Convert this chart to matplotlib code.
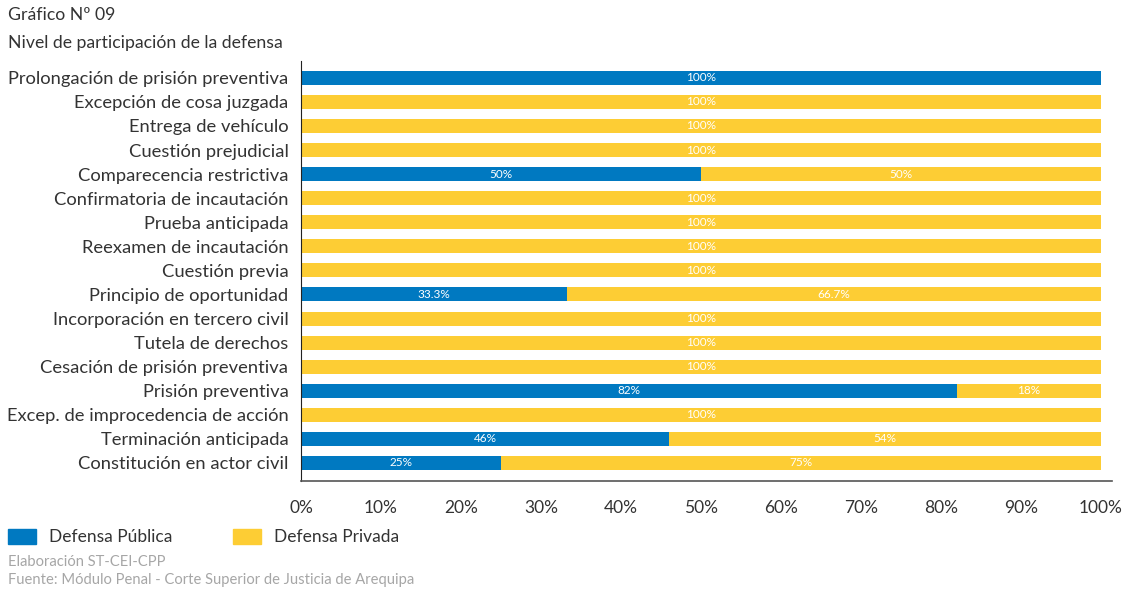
import matplotlib.pyplot as plt
from matplotlib.patches import Patch

plt.rcParams["font.family"] = ["Lato", "DejaVu Sans"]

OUTPUT_PATH = "out.png"

categories = [
    "Prolongación de prisión preventiva",
    "Excepción de cosa juzgada",
    "Entrega de vehículo",
    "Cuestión prejudicial",
    "Comparecencia restrictiva",
    "Confirmatoria de incautación",
    "Prueba anticipada",
    "Reexamen de incautación",
    "Cuestión previa",
    "Principio de oportunidad",
    "Incorporación en tercero civil",
    "Tutela de derechos",
    "Cesación de prisión preventiva",
    "Prisión preventiva",
    "Excep. de improcedencia de acción",
    "Terminación anticipada",
    "Constitución en actor civil",
]
publica = [100, 0, 0, 0, 50, 0, 0, 0, 0, 33.3, 0, 0, 0, 82, 0, 46, 25]
privada = [0, 100, 100, 100, 50, 100, 100, 100, 100, 66.7, 100, 100, 100, 18, 100, 54, 75]
series_names = ["Defensa Pública", "Defensa Privada"]
xticks = list(range(0, 101, 10))

BLUE = "#0079C1"
YELLOW = "#FDCD34"
TEXT = "#333333"
GREY = "#a6a6a6"


def fmt(v):
    return f"{v:.1f}%" if v % 1 else f"{v:.0f}%"


def main():
    fig = plt.figure(figsize=(11.34, 5.92), dpi=100)
    ax = fig.add_axes([0.2654, 0.1875, 0.7152, 0.7095])

    y = list(range(len(categories)))
    b1 = ax.barh(y, publica, height=0.58, color=BLUE)
    b2 = ax.barh(y, privada, left=publica, height=0.58, color=YELLOW)

    for bars, vals, lefts in ((b1, publica, [0] * len(y)), (b2, privada, publica)):
        for yi, v, l in zip(y, vals, lefts):
            if v > 0:
                ax.text(l + v / 2, yi, fmt(v), ha="center", va="center",
                        color="white", fontsize=8.5)

    ax.set_ylim(16.75, -0.7)
    ax.set_xlim(0, 101.4)
    ax.set_yticks(y)
    ax.set_yticklabels(categories, fontsize=13.2, color=TEXT)
    ax.set_xticks(xticks)
    ax.set_xticklabels([f"{t}%" for t in xticks], fontsize=12.5, color=TEXT)
    ax.tick_params(axis="both", length=0)
    ax.tick_params(axis="y", pad=9)
    ax.tick_params(axis="x", pad=14)

    for s in ("top", "right"):
        ax.spines[s].set_visible(False)
    ax.spines["left"].set_color("#222222")
    ax.spines["bottom"].set_color("#555555")
    ax.spines["bottom"].set_linewidth(1.2)

    fig.text(0.007, 0.974, "Gráfico Nº 09", fontsize=12.7, color=TEXT, va="center")
    fig.text(0.007, 0.928, "Nivel de participación de la defensa", fontsize=12.7,
             color=TEXT, va="center")

    handles = [Patch(color=BLUE), Patch(color=YELLOW)]
    fig.legend(handles, series_names, loc="center left",
               bbox_to_anchor=(0.007, 0.093), ncol=2, frameon=False,
               fontsize=12.5, handlelength=1.6, handleheight=1.0,
               handletextpad=0.75, columnspacing=3.5, labelcolor=TEXT,
               borderpad=0, borderaxespad=0)

    fig.text(0.007, 0.051, "Elaboración ST-CEI-CPP", fontsize=10.6, color=GREY,
             va="center")
    fig.text(0.007, 0.020, "Fuente: Módulo Penal - Corte Superior de Justicia de Arequipa",
             fontsize=10.6, color=GREY, va="center")

    fig.savefig(OUTPUT_PATH, dpi=100)
    plt.close(fig)


if __name__ == "__main__":
    main()
